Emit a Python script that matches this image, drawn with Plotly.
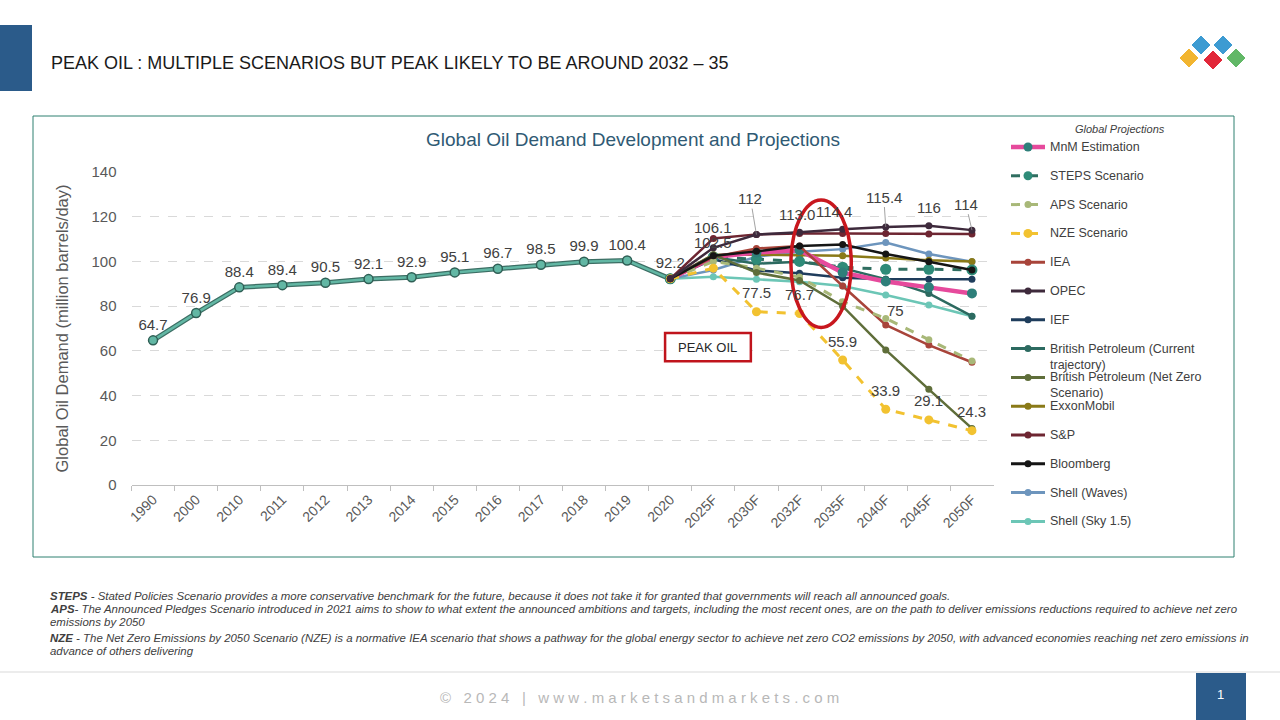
import plotly.graph_objects as go

W, H = 1280, 720
def px(x): return x / W
def py(y): return 1 - y / H

# ---------------- data ----------------
hist_cats = ["1990", "2000", "2010", "2011", "2012", "2013", "2014", "2015",
             "2016", "2017", "2018", "2019", "2020"]
hist_vals = [64.7, 76.9, 88.4, 89.4, 90.5, 92.1, 92.9, 95.1, 96.7, 98.5, 99.9, 100.4, 92.2]

proj_cats = ["2020", "2025F", "2030F", "2032F", "2035F", "2040F", "2045F", "2050F"]
base_2020 = 92.2

mnm        = [base_2020, 102.0, 104.0, 105.0, 95.0, 91.0, 88.4, 85.7]
steps      = [base_2020, 102.0, 101.0, 100.0, 97.4, 96.5, 96.5, 96.2]
aps        = [base_2020, 100.0, 97.0, 93.0, 82.0, 74.5, 65.0, 55.5]
nze        = [base_2020, 97.0, 77.5, 76.7, 55.9, 33.9, 29.1, 24.3]
iea        = [base_2020, 102.0, 105.8, 106.9, 89.0, 71.6, 62.6, 54.9]
opec       = [base_2020, 106.1, 112.0, 113.0, 114.4, 115.4, 116.0, 114.0]
ief        = [base_2020, 101.0, 96.0, 94.7, 92.7, 92.0, 92.0, 92.0]
bp_current = [base_2020, 102.0, 99.0, 99.9, 97.0, 92.0, 85.7, 75.5]
bp_netzero = [base_2020, 103.0, 95.0, 91.5, 80.0, 60.4, 42.8, 25.3]
exxon      = [base_2020, 103.0, 103.0, 102.8, 102.5, 101.5, 100.5, 100.0]
sp         = [base_2020, 110.3, 112.1, 112.5, 112.5, 112.5, 112.3, 112.3]
bloomberg  = [base_2020, 102.5, 104.5, 106.9, 107.6, 103.3, 99.9, 96.2]
shell_waves= [base_2020, 96.2, 102.1, 104.3, 105.5, 108.5, 103.3, 99.9]
shell_sky  = [base_2020, 93.2, 92.0, 90.9, 89.0, 85.0, 80.5, 75.5]

opec_labels = ["", "106.1", "112", "113.0", "114.4", "115.4", "116", "114"]
nze_labels = ["", "", "77.5", "76.7", "55.9", "33.9", "29.1", "24.3"]
aps_labels = ["", "", "", "", "", "75", "", ""]
bloomberg_labels = ["", "102.5", "", "", "", "", "", ""]

series_names = ["MnM Estimation", "STEPS Scenario", "APS Scenario", "NZE Scenario", "IEA",
                "OPEC", "IEF", "British Petroleum (Current<br>trajectory)",
                "British Petroleum (Net Zero<br>Scenario)", "ExxonMobil", "S&P", "Bloomberg",
                "Shell (Waves)", "Shell (Sky 1.5)"]
series_values = [mnm, steps, aps, nze, iea, opec, ief, bp_current, bp_netzero, exxon, sp,
                 bloomberg, shell_waves, shell_sky]

# ---------------- styles ----------------
line_colors = ["#E64A9C", "#2F6E60", "#A8B878", "#F2C230", "#A8443A", "#3E2A3C", "#1F3D5C",
               "#2C6A60", "#5F6E3A", "#8A7A18", "#6E2632", "#151515", "#6D95BD", "#6CC6B6"]
marker_colors = ["#2E7F7A", "#2E8B78", "#A8B878", "#F2C230", "#A8443A", "#3E2A3C", "#1F3D5C",
                 "#2C6A60", "#5F6E3A", "#8A7A18", "#6E2632", "#151515", "#6D95BD", "#6CC6B6"]
dashes = ["solid", "dash", "dash", "dash"] + ["solid"] * 10
widths = [4.5, 3, 3, 3] + [2.5] * 10
msizes = [10, 11, 7, 9] + [7] * 10
draw_order = [13, 12, 9, 6, 7, 1, 0, 4, 2, 8, 3, 11, 10, 5]

LABEL_FONT = dict(size=15, color="#404040", family="Liberation Sans, Arial")

fig = go.Figure()

# history: dark outline + lighter core
fig.add_trace(go.Scatter(x=hist_cats, y=hist_vals, mode="lines", showlegend=False,
                         line=dict(color="#3C6E64", width=5), hoverinfo="skip"))
fig.add_trace(go.Scatter(x=hist_cats, y=hist_vals, mode="lines+markers+text", showlegend=False,
                         line=dict(color="#62B7A4", width=2.5),
                         marker=dict(color="#62B7A4", size=9, line=dict(color="#2F5F55", width=1.5)),
                         text=[f"{v:g}" for v in hist_vals], textposition="top center",
                         textfont=LABEL_FONT))

for i in draw_order:
    fig.add_trace(go.Scatter(
        x=proj_cats, y=series_values[i], name=series_names[i], showlegend=False,
        mode="lines+markers",
        line=dict(color=line_colors[i], width=widths[i], dash=dashes[i]),
        marker=dict(color=marker_colors[i], size=msizes[i])))

shapes = []
annotations = []

# data labels (offsets in pixels relative to each point)
opec_offsets = [(0, 0), (0, -20), (-6, -36), (-3, -18), (-9, -18), (-2, -30), (0, -18), (-6, -26)]
opec_leader = [False, False, True, False, False, True, False, True]
for c, v, t, (dx, dy), lead in zip(proj_cats, opec, opec_labels, opec_offsets, opec_leader):
    if t:
        annotations.append(dict(x=c, y=v, xref="x", yref="y", text=t, showarrow=lead,
                                arrowhead=0, arrowwidth=0.8, arrowcolor="#8C8C8C",
                                ax=dx, ay=dy, axref="pixel", ayref="pixel",
                                xshift=0 if lead else dx, yshift=0 if lead else -dy,
                                font=LABEL_FONT))
for c, v, t in zip(proj_cats, nze, nze_labels):
    if t:
        annotations.append(dict(x=c, y=v, xref="x", yref="y", text=t, showarrow=False,
                                yshift=19, font=LABEL_FONT))
for c, v, t in zip(proj_cats, aps, aps_labels):
    if t:
        annotations.append(dict(x=c, y=v, xref="x", yref="y", text=t, showarrow=False,
                                xshift=10, yshift=8, font=LABEL_FONT))
for c, v, t in zip(proj_cats, bloomberg, bloomberg_labels):
    if t:
        annotations.append(dict(x=c, y=v, xref="x", yref="y", text=t, showarrow=False,
                                yshift=13, font=LABEL_FONT))

# left title bar and title
shapes.append(dict(type="rect", xref="paper", yref="paper", x0=px(0), x1=px(32), y0=py(91), y1=py(25),
                   fillcolor="#2B5B8A", line=dict(width=0), layer="below"))
annotations.append(dict(text="PEAK OIL : MULTIPLE SCENARIOS BUT PEAK LIKELY TO BE AROUND 2032 – 35",
                        x=px(49), y=py(63), xref="paper", yref="paper", xanchor="left", yanchor="middle",
                        showarrow=False,
                        font=dict(size=18, color="#1A1A1A", family="Liberation Sans Narrow, Arial Narrow, Liberation Sans")))

# chart frame
shapes.append(dict(type="rect", xref="paper", yref="paper", x0=px(33), x1=px(1234), y0=py(557), y1=py(116),
                   line=dict(color="#2E8070", width=1), fillcolor="rgba(0,0,0,0)", layer="below"))
annotations.append(dict(text="Global Oil Demand Development and Projections", x=px(633), y=py(139),
                        xref="paper", yref="paper", showarrow=False, xanchor="center", yanchor="middle",
                        font=dict(size=19, color="#2F5A74", family="Liberation Sans, Arial")))

# legend (manual, generated from series lists)
annotations.append(dict(text="<i>Global Projections</i>", x=px(1120), y=py(129), xref="paper", yref="paper",
                        showarrow=False, xanchor="center", yanchor="middle",
                        font=dict(size=11, color="#404040", family="Liberation Sans, Arial")))
for i, name in enumerate(series_names):
    yy = 147 + i * 28.8
    shapes.append(dict(type="line", xref="paper", yref="paper", x0=px(1011), x1=px(1045), y0=py(yy), y1=py(yy),
                       line=dict(color=line_colors[i], width=widths[i] if i == 0 else 3,
                                 dash="dash" if dashes[i] == "dash" else "solid")))
    r = 4.5 if msizes[i] >= 9 else 3.5
    shapes.append(dict(type="circle", xref="paper", yref="paper", x0=px(1028 - r), x1=px(1028 + r),
                       y0=py(yy + r), y1=py(yy - r), fillcolor=marker_colors[i], line=dict(width=0)))
    annotations.append(dict(text=name, x=px(1048), y=py(yy - 9), xref="paper", yref="paper",
                            showarrow=False, xanchor="left", yanchor="top", align="left",
                            font=dict(size=12.5, color="#404040", family="Liberation Sans, Arial")))

# peak oil ellipse and box (data coordinates, category index on x)
shapes.append(dict(type="circle", xref="x", yref="y", x0=14.8, x1=16.2, y0=70.5, y1=127.5,
                   line=dict(color="#C8171E", width=3.5)))
shapes.append(dict(type="rect", xref="x", yref="y", x0=11.88, x1=13.87, y0=55.3, y1=68.0,
                   line=dict(color="#C0141C", width=2.5), fillcolor="white"))
annotations.append(dict(text="PEAK OIL", x=12.875, y=61.6, xref="x", yref="y", showarrow=False,
                        font=dict(size=13, color="#262626", family="Liberation Sans, Arial")))

# footnotes
notes = [
    "<b><i>STEPS</i></b><i> - Stated Policies Scenario provides a more conservative benchmark for the future, because it does not take it for granted that governments will reach all announced goals.</i>",
    "<b><i>APS</i></b><i>- The Announced Pledges Scenario introduced in 2021 aims to show to what extent the announced ambitions and targets, including the most recent ones, are on the path to deliver emissions reductions required to achieve net zero</i>",
    "<i>emissions by 2050</i>",
    "<b><i>NZE</i></b><i> - The Net Zero Emissions by 2050 Scenario (NZE) is a normative IEA scenario that shows a pathway for the global energy sector to achieve net zero CO2 emissions by 2050, with advanced economies reaching net zero emissions in</i>",
    "<i>advance of others delivering</i>",
]
note_y = [596, 609, 622, 638, 651]
for t, yy in zip(notes, note_y):
    annotations.append(dict(text=t, x=px(48), y=py(yy), xref="paper", yref="paper", showarrow=False,
                            xanchor="left", yanchor="middle",
                            font=dict(size=11.45, color="#404040", family="Liberation Sans, Arial")))

# footer
shapes.append(dict(type="line", xref="paper", yref="paper", x0=0, x1=1, y0=py(672), y1=py(672),
                   line=dict(color="#D9D9D9", width=1)))
annotations.append(dict(text=" ".join("© 2024 | www.marketsandmarkets.com"), x=px(639), y=py(697),
                        xref="paper", yref="paper", showarrow=False, xanchor="center", yanchor="middle",
                        font=dict(size=15, color="#B8B8B8", family="Liberation Sans, Arial")))
shapes.append(dict(type="rect", xref="paper", yref="paper", x0=px(1196), x1=px(1246), y0=py(720), y1=py(673),
                   fillcolor="#2B5B8A", line=dict(width=0)))
annotations.append(dict(text="1", x=px(1220), y=py(694), xref="paper", yref="paper", showarrow=False,
                        xanchor="center", yanchor="middle",
                        font=dict(size=13, color="white", family="Liberation Sans, Arial")))

# logo diamonds
logo = [(1201, 45, "#3D9BD2"), (1223, 45, "#3D9BD2"), (1189, 58, "#F2B530"),
        (1213, 60, "#E2283A"), (1236, 58, "#62B867")]
for cx, cy, col in logo:
    d = 10
    path = (f"M {px(cx)} {py(cy - d)} L {px(cx + d)} {py(cy)} L {px(cx)} {py(cy + d)} "
            f"L {px(cx - d)} {py(cy)} Z")
    shapes.append(dict(type="path", xref="paper", yref="paper", path=path, fillcolor=col,
                       line=dict(color="white", width=1)))

all_cats = hist_cats + proj_cats[1:]

fig.update_layout(
    width=W, height=H, autosize=False,
    margin=dict(l=0, r=0, t=0, b=0, pad=0, autoexpand=False),
    paper_bgcolor="white", plot_bgcolor="white", showlegend=False,
    shapes=shapes, annotations=annotations,
    xaxis=dict(domain=[px(131.5), px(993.5)], type="category", categoryorder="array",
               categoryarray=all_cats, tickmode="array", tickvals=all_cats, ticktext=all_cats,
               range=[-0.5, len(all_cats) - 0.5], automargin=False,
               tickangle=-45, tickfont=dict(size=14, color="#595959", family="Liberation Sans, Arial"),
               showgrid=False, showline=True, linecolor="#BFBFBF", linewidth=1,
               ticks="outside", tickson="boundaries", ticklen=5, tickcolor="#BFBFBF", zeroline=False),
    yaxis=dict(domain=[py(485), py(172)], range=[0, 140], tickvals=[0, 20, 40, 60, 80, 100, 120, 140],
               automargin=False,
               tickfont=dict(size=15, color="#595959", family="Liberation Sans, Arial"),
               showgrid=True, gridcolor="#D9D9D9", griddash="dash", gridwidth=1,
               zeroline=False, showline=False, ticks="", ticklabelstandoff=14,
               title=dict(text="Global Oil Demand (million barrels/day)", standoff=18,
                          font=dict(size=16.5, color="#595959", family="Liberation Sans, Arial"))),
)

fig.write_html(
    "out.html",
    config={"displayModeBar": False},
    post_script=("document.documentElement.style.margin='0';document.body.style.margin='0';"
                 "document.documentElement.style.overflow='hidden';document.body.style.overflow='hidden';"),
)
